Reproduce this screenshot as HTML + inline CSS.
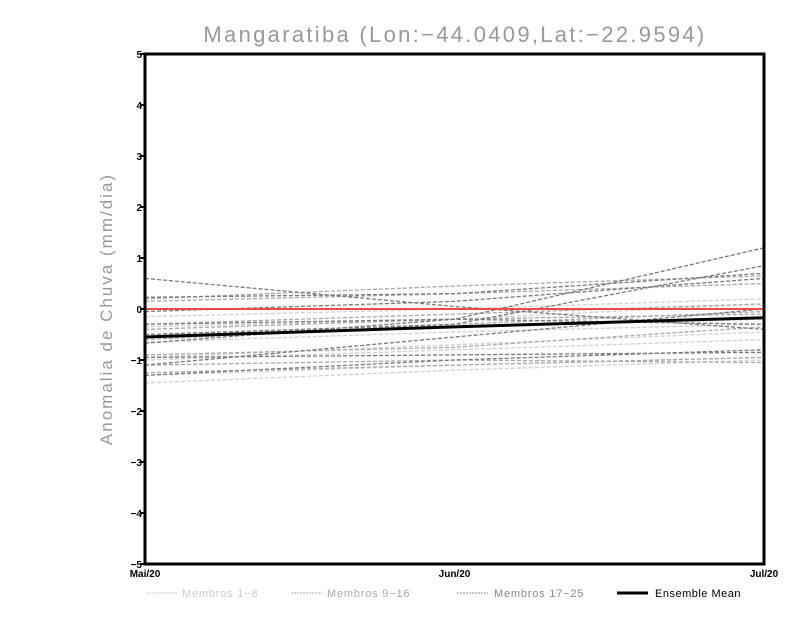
<!DOCTYPE html>
<html><head><meta charset="utf-8"><style>
body{margin:0;background:#fff;width:800px;height:618px;overflow:hidden}
svg{font-family:"Liberation Sans",sans-serif}
</style></head><body>
<svg id="chart" width="800" height="618">
<text x="455" y="42" font-size="22" fill="#999" text-anchor="middle" letter-spacing="2.3">Mangaratiba (Lon:−44.0409,Lat:−22.9594)</text>
<text transform="translate(112,309) rotate(-90)" font-size="17" fill="#999" text-anchor="middle" letter-spacing="2">Anomalia de Chuva (mm/dia)</text>
<g id="ticks"></g>
<g id="series"></g>
<rect x="145" y="54" width="619" height="510" fill="none" stroke="#000" stroke-width="3"/>
<g font-size="11">
<g><line x1="146" y1="593" x2="177" y2="593" stroke="#ccc" stroke-dasharray="2,1"/><text x="182" y="597" fill="#ccc" letter-spacing="0.8">Membros 1−8</text></g>
<g><line x1="291" y1="593" x2="322" y2="593" stroke="#aaa" stroke-dasharray="2,1"/><text x="327" y="597" fill="#aaa" letter-spacing="0.8">Membros 9−16</text></g>
<g><line x1="457" y1="593" x2="488" y2="593" stroke="#888" stroke-dasharray="2,1"/><text x="494" y="597" fill="#888" letter-spacing="0.8">Membros 17−25</text></g>
<g><line x1="617" y1="593" x2="648" y2="593" stroke="#000" stroke-width="3"/><text x="655" y="597" fill="#000" letter-spacing="0.5">Ensemble Mean</text></g>
</g>
</svg>
<script>
const months=["Mai/20","Jun/20","Jul/20"];
const yTicks=[-5,-4,-3,-2,-1,0,1,2,3,4,5];
const group1=[[-1.45,-1.2,-1.0],[-0.95,-0.7,-0.45],[-0.35,-0.2,0.1],[-0.65,-0.45,-0.3],[-1.3,-1.1,-0.95],[-0.15,0.0,0.2],[-0.5,-0.35,-0.2],[-1.0,-0.8,-0.6]];
const group2=[[0.2,0.45,0.65],[-0.3,-0.1,0.1],[-1.1,-1.0,-1.05],[-0.6,-0.3,-0.05],[0.15,0.3,0.5],[-0.9,-0.75,-0.35],[-0.4,-0.2,-0.1],[-1.25,-1.1,-0.95]];
const group3=[[0.6,0.05,-0.4],[0.23,0.3,0.7],[-1.1,-0.55,0.0],[-0.67,-0.2,1.2],[-0.05,0.15,0.6],[-0.3,-0.2,-0.3],[-1.3,-1.0,-0.8],[-0.5,-0.3,0.85],[-0.95,-0.9,-0.85]];
const obsValues=[0.0,0.0,0.0];
const meanValues=[-0.55,-0.35,-0.17];
const L=145,R=764,T=54,B=564;
const xs=i=>L+i*(R-L)/(months.length-1);
const ys=v=>T+(5-v)*(B-T)/10;
const NS="http://www.w3.org/2000/svg";
const tk=document.getElementById('ticks'),sg=document.getElementById('series');
function mk(tag,a,p){const e=document.createElementNS(NS,tag);for(const k in a)e.setAttribute(k,a[k]);p.appendChild(e);return e;}
yTicks.forEach(v=>{
 const t=mk('text',{x:142,y:ys(v)+4,'font-size':10,'font-weight':'bold','text-anchor':'end'},tk);
 
 
 t.textContent=(v<0?'−':'')+Math.abs(v);
 const l=mk('line',{x1:L-5,x2:L,y1:ys(v),y2:ys(v),stroke:'#000','stroke-width':2},tk);
 
 
});
months.forEach((m,i)=>{
 const t=mk('text',{x:xs(i),y:B+13,'font-size':10,'font-weight':'bold','text-anchor':'middle'},tk);
 
 
 t.textContent=m;
});
function line(vals,st,w,dash,name){
 const p=mk('polyline',{points:vals.map((v,i)=>xs(i)+','+ys(v)).join(' '),fill:'none',stroke:st,'stroke-width':w},sg);
 if(dash)p.setAttribute('stroke-dasharray',dash);
 
 
}
group1.forEach(s=>line(s,'#d0d0d0',1.3,'4,2','member-line-1-8'));
group2.forEach(s=>line(s,'#a8a8a8',1.3,'4,2','member-line-9-16'));
group3.forEach(s=>line(s,'#7a7a7a',1.3,'4,2','member-line-17-25'));
line(obsValues,'#f04848',2,null,'zero-reference-line');
line(meanValues,'#000',3,null,'ensemble-mean-line');
</script>
</body></html>
